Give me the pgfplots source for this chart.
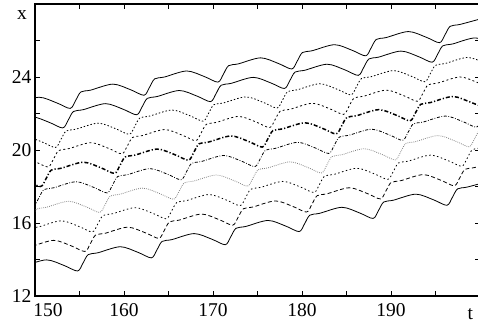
\documentclass[border=0pt]{standalone}
\usepackage{fontspec}
\setmainfont{Liberation Serif}
\usepackage{pgfplots}
\pgfplotsset{compat=1.18}
\begin{document}
\begin{tikzpicture}
\newcommand{\lfont}{\fontsize{19.5}{20}\selectfont}
\path[use as bounding box] (-35pt,-36pt) rectangle (443pt,296pt);
\begin{axis}[
  at={(0pt,0pt)}, anchor=south west,
  scale only axis, width=445pt, height=292pt,
  xmin=150, xmax=200, ymin=12, ymax=28,
  xtick={150,155,...,200}, ytick={12,14,...,28},
  xticklabels={{},{},160,{},170,{},180,{},190,{},{}},
  yticklabels={12,{},16,{},20,{},24,{},{}},
  tick align=inside, major tick length=5pt,
  xtick pos=both, ytick pos=both,
  tick style={black, line width=0.8pt},
  axis line style={line width=1.2pt},
  tick label style={font=\lfont},
  xticklabel style={yshift=-4pt},
  clip mode=individual,
  cycle list={{black}},
  every axis plot/.append style={line width=0.8pt, smooth, no markers},
]
% k=0 solid
\addplot[black, solid] coordinates {(147.95,22.56) (150.45,22.89) (152.45,22.58) (153.95,22.28) (154.55,22.70) (155.15,23.18) (156.25,23.28) (158.75,23.61) (160.75,23.30) (162.25,23.00) (162.85,23.42) (163.45,23.90) (164.55,24.00) (167.05,24.33) (169.05,24.02) (170.55,23.72) (171.15,24.14) (171.75,24.62) (172.85,24.72) (175.35,25.05) (177.35,24.74) (178.85,24.44) (179.45,24.86) (180.05,25.34) (181.15,25.44) (183.65,25.77) (185.65,25.46) (187.15,25.16) (187.75,25.58) (188.35,26.06) (189.45,26.16) (191.95,26.49) (193.95,26.18) (195.45,25.88) (196.05,26.30) (196.65,26.78) (197.75,26.88) (200.25,27.21)};
% k=1 solid
\addplot[black, solid] coordinates {(147.12,21.49) (149.62,21.82) (151.62,21.51) (153.12,21.21) (153.72,21.63) (154.32,22.11) (155.42,22.21) (157.92,22.54) (159.92,22.23) (161.42,21.93) (162.02,22.35) (162.62,22.83) (163.72,22.93) (166.22,23.26) (168.22,22.95) (169.72,22.65) (170.32,23.07) (170.92,23.55) (172.02,23.65) (174.52,23.98) (176.52,23.67) (178.02,23.37) (178.62,23.79) (179.22,24.27) (180.32,24.37) (182.82,24.70) (184.82,24.39) (186.32,24.09) (186.92,24.51) (187.52,24.99) (188.62,25.09) (191.12,25.42) (193.12,25.11) (194.62,24.81) (195.22,25.23) (195.82,25.71) (196.92,25.81) (199.42,26.14) (201.42,25.83)};
% k=2 dotted
\addplot[black, dash pattern=on 1.5pt off 2pt] coordinates {(146.29,20.42) (148.79,20.75) (150.79,20.44) (152.29,20.14) (152.89,20.56) (153.49,21.04) (154.59,21.14) (157.09,21.47) (159.09,21.16) (160.59,20.86) (161.19,21.28) (161.79,21.76) (162.89,21.86) (165.39,22.19) (167.39,21.88) (168.89,21.58) (169.49,22.00) (170.09,22.48) (171.19,22.58) (173.69,22.91) (175.69,22.60) (177.19,22.30) (177.79,22.72) (178.39,23.20) (179.49,23.30) (181.99,23.63) (183.99,23.32) (185.49,23.02) (186.09,23.44) (186.69,23.92) (187.79,24.02) (190.29,24.35) (192.29,24.04) (193.79,23.74) (194.39,24.16) (194.99,24.64) (196.09,24.74) (198.59,25.07) (200.59,24.76)};
% k=3 dotted/dashed
\addplot[black, dash pattern=on 2pt off 2.5pt] coordinates {(145.46,19.35) (147.96,19.68) (149.96,19.37) (151.46,19.07) (152.06,19.49) (152.66,19.97) (153.76,20.07) (156.26,20.40) (158.26,20.09) (159.76,19.79) (160.36,20.21) (160.96,20.69) (162.06,20.79) (164.56,21.12) (166.56,20.81) (168.06,20.51) (168.66,20.93) (169.26,21.41) (170.36,21.51) (172.86,21.84) (174.86,21.53) (176.36,21.23) (176.96,21.65) (177.56,22.13) (178.66,22.23) (181.16,22.56) (183.16,22.25) (184.66,21.95) (185.26,22.37) (185.86,22.85) (186.96,22.95) (189.46,23.28) (191.46,22.97) (192.96,22.67) (193.56,23.09) (194.16,23.57) (195.26,23.67) (197.76,24.00) (199.76,23.69) (201.26,23.39)};
% k=4 thick dash-dot
\addplot[black, line width=1.5pt, dash pattern=on 4pt off 2pt on 1.2pt off 2pt] coordinates {(144.63,18.28) (147.13,18.61) (149.13,18.30) (150.63,18.00) (151.23,18.42) (151.83,18.90) (152.93,19.00) (155.43,19.33) (157.43,19.02) (158.93,18.72) (159.53,19.14) (160.13,19.62) (161.23,19.72) (163.73,20.05) (165.73,19.74) (167.23,19.44) (167.83,19.86) (168.43,20.34) (169.53,20.44) (172.03,20.77) (174.03,20.46) (175.53,20.16) (176.13,20.58) (176.73,21.06) (177.83,21.16) (180.33,21.49) (182.33,21.18) (183.83,20.88) (184.43,21.30) (185.03,21.78) (186.13,21.88) (188.63,22.21) (190.63,21.90) (192.13,21.60) (192.73,22.02) (193.33,22.50) (194.43,22.60) (196.93,22.93) (198.93,22.62) (200.43,22.32)};
% k=5 dash-dot
\addplot[black, dash pattern=on 3pt off 1.6pt on 0.8pt off 1.6pt] coordinates {(143.80,17.21) (146.30,17.54) (148.30,17.23) (149.80,16.93) (150.40,17.35) (151.00,17.83) (152.10,17.93) (154.60,18.26) (156.60,17.95) (158.10,17.65) (158.70,18.07) (159.30,18.55) (160.40,18.65) (162.90,18.98) (164.90,18.67) (166.40,18.37) (167.00,18.79) (167.60,19.27) (168.70,19.37) (171.20,19.70) (173.20,19.39) (174.70,19.09) (175.30,19.51) (175.90,19.99) (177.00,20.09) (179.50,20.42) (181.50,20.11) (183.00,19.81) (183.60,20.23) (184.20,20.71) (185.30,20.81) (187.80,21.14) (189.80,20.83) (191.30,20.53) (191.90,20.95) (192.50,21.43) (193.60,21.53) (196.10,21.86) (198.10,21.55) (199.60,21.25) (200.20,21.67)};
% k=6 fine dotted gray
\addplot[gray, dash pattern=on 0.8pt off 1.2pt] coordinates {(145.47,16.47) (147.47,16.16) (148.97,15.86) (149.57,16.28) (150.17,16.76) (151.27,16.86) (153.77,17.19) (155.77,16.88) (157.27,16.58) (157.87,17.00) (158.47,17.48) (159.57,17.58) (162.07,17.91) (164.07,17.60) (165.57,17.30) (166.17,17.72) (166.77,18.20) (167.87,18.30) (170.37,18.63) (172.37,18.32) (173.87,18.02) (174.47,18.44) (175.07,18.92) (176.17,19.02) (178.67,19.35) (180.67,19.04) (182.17,18.74) (182.77,19.16) (183.37,19.64) (184.47,19.74) (186.97,20.07) (188.97,19.76) (190.47,19.46) (191.07,19.88) (191.67,20.36) (192.77,20.46) (195.27,20.79) (197.27,20.48) (198.77,20.18) (199.37,20.60) (199.97,21.08) (201.07,21.18)};
% k=7 dotted
\addplot[black, dash pattern=on 1.5pt off 2.5pt] coordinates {(144.64,15.40) (146.64,15.09) (148.14,14.79) (148.74,15.21) (149.34,15.69) (150.44,15.79) (152.94,16.12) (154.94,15.81) (156.44,15.51) (157.04,15.93) (157.64,16.41) (158.74,16.51) (161.24,16.84) (163.24,16.53) (164.74,16.23) (165.34,16.65) (165.94,17.13) (167.04,17.23) (169.54,17.56) (171.54,17.25) (173.04,16.95) (173.64,17.37) (174.24,17.85) (175.34,17.95) (177.84,18.28) (179.84,17.97) (181.34,17.67) (181.94,18.09) (182.54,18.57) (183.64,18.67) (186.14,19.00) (188.14,18.69) (189.64,18.39) (190.24,18.81) (190.84,19.29) (191.94,19.39) (194.44,19.72) (196.44,19.41) (197.94,19.11) (198.54,19.53) (199.14,20.01) (200.24,20.11)};
% k=8 dashed
\addplot[black, dash pattern=on 4pt off 2.5pt] coordinates {(145.81,14.02) (147.31,13.72) (147.91,14.14) (148.51,14.62) (149.61,14.72) (152.11,15.05) (154.11,14.74) (155.61,14.44) (156.21,14.86) (156.81,15.34) (157.91,15.44) (160.41,15.77) (162.41,15.46) (163.91,15.16) (164.51,15.58) (165.11,16.06) (166.21,16.16) (168.71,16.49) (170.71,16.18) (172.21,15.88) (172.81,16.30) (173.41,16.78) (174.51,16.88) (177.01,17.21) (179.01,16.90) (180.51,16.60) (181.11,17.02) (181.71,17.50) (182.81,17.60) (185.31,17.93) (187.31,17.62) (188.81,17.32) (189.41,17.74) (190.01,18.22) (191.11,18.32) (193.61,18.65) (195.61,18.34) (197.11,18.04) (197.71,18.46) (198.31,18.94) (199.41,19.04) (201.91,19.37)};
% k=9 solid
\addplot[black, solid] coordinates {(144.98,12.95) (146.48,12.65) (147.08,13.07) (147.68,13.55) (148.78,13.65) (151.28,13.98) (153.28,13.67) (154.78,13.37) (155.38,13.79) (155.98,14.27) (157.08,14.37) (159.58,14.70) (161.58,14.39) (163.08,14.09) (163.68,14.51) (164.28,14.99) (165.38,15.09) (167.88,15.42) (169.88,15.11) (171.38,14.81) (171.98,15.23) (172.58,15.71) (173.68,15.81) (176.18,16.14) (178.18,15.83) (179.68,15.53) (180.28,15.95) (180.88,16.43) (181.98,16.53) (184.48,16.86) (186.48,16.55) (187.98,16.25) (188.58,16.67) (189.18,17.15) (190.28,17.25) (192.78,17.58) (194.78,17.27) (196.28,16.97) (196.88,17.39) (197.48,17.87) (198.58,17.97) (201.08,18.30)};
\node[anchor=north, inner sep=0.333em, yshift=-4pt, font=\lfont] at (axis cs:151.46,12) {150};
\node[anchor=base, yshift=-23.7pt, font=\lfont] at (axis cs:198.9,12) {t};
\node[anchor=base, xshift=-13pt, yshift=-15.4pt, font=\lfont] at (axis cs:150,28) {x};
\end{axis}
\end{tikzpicture}
\end{document}
